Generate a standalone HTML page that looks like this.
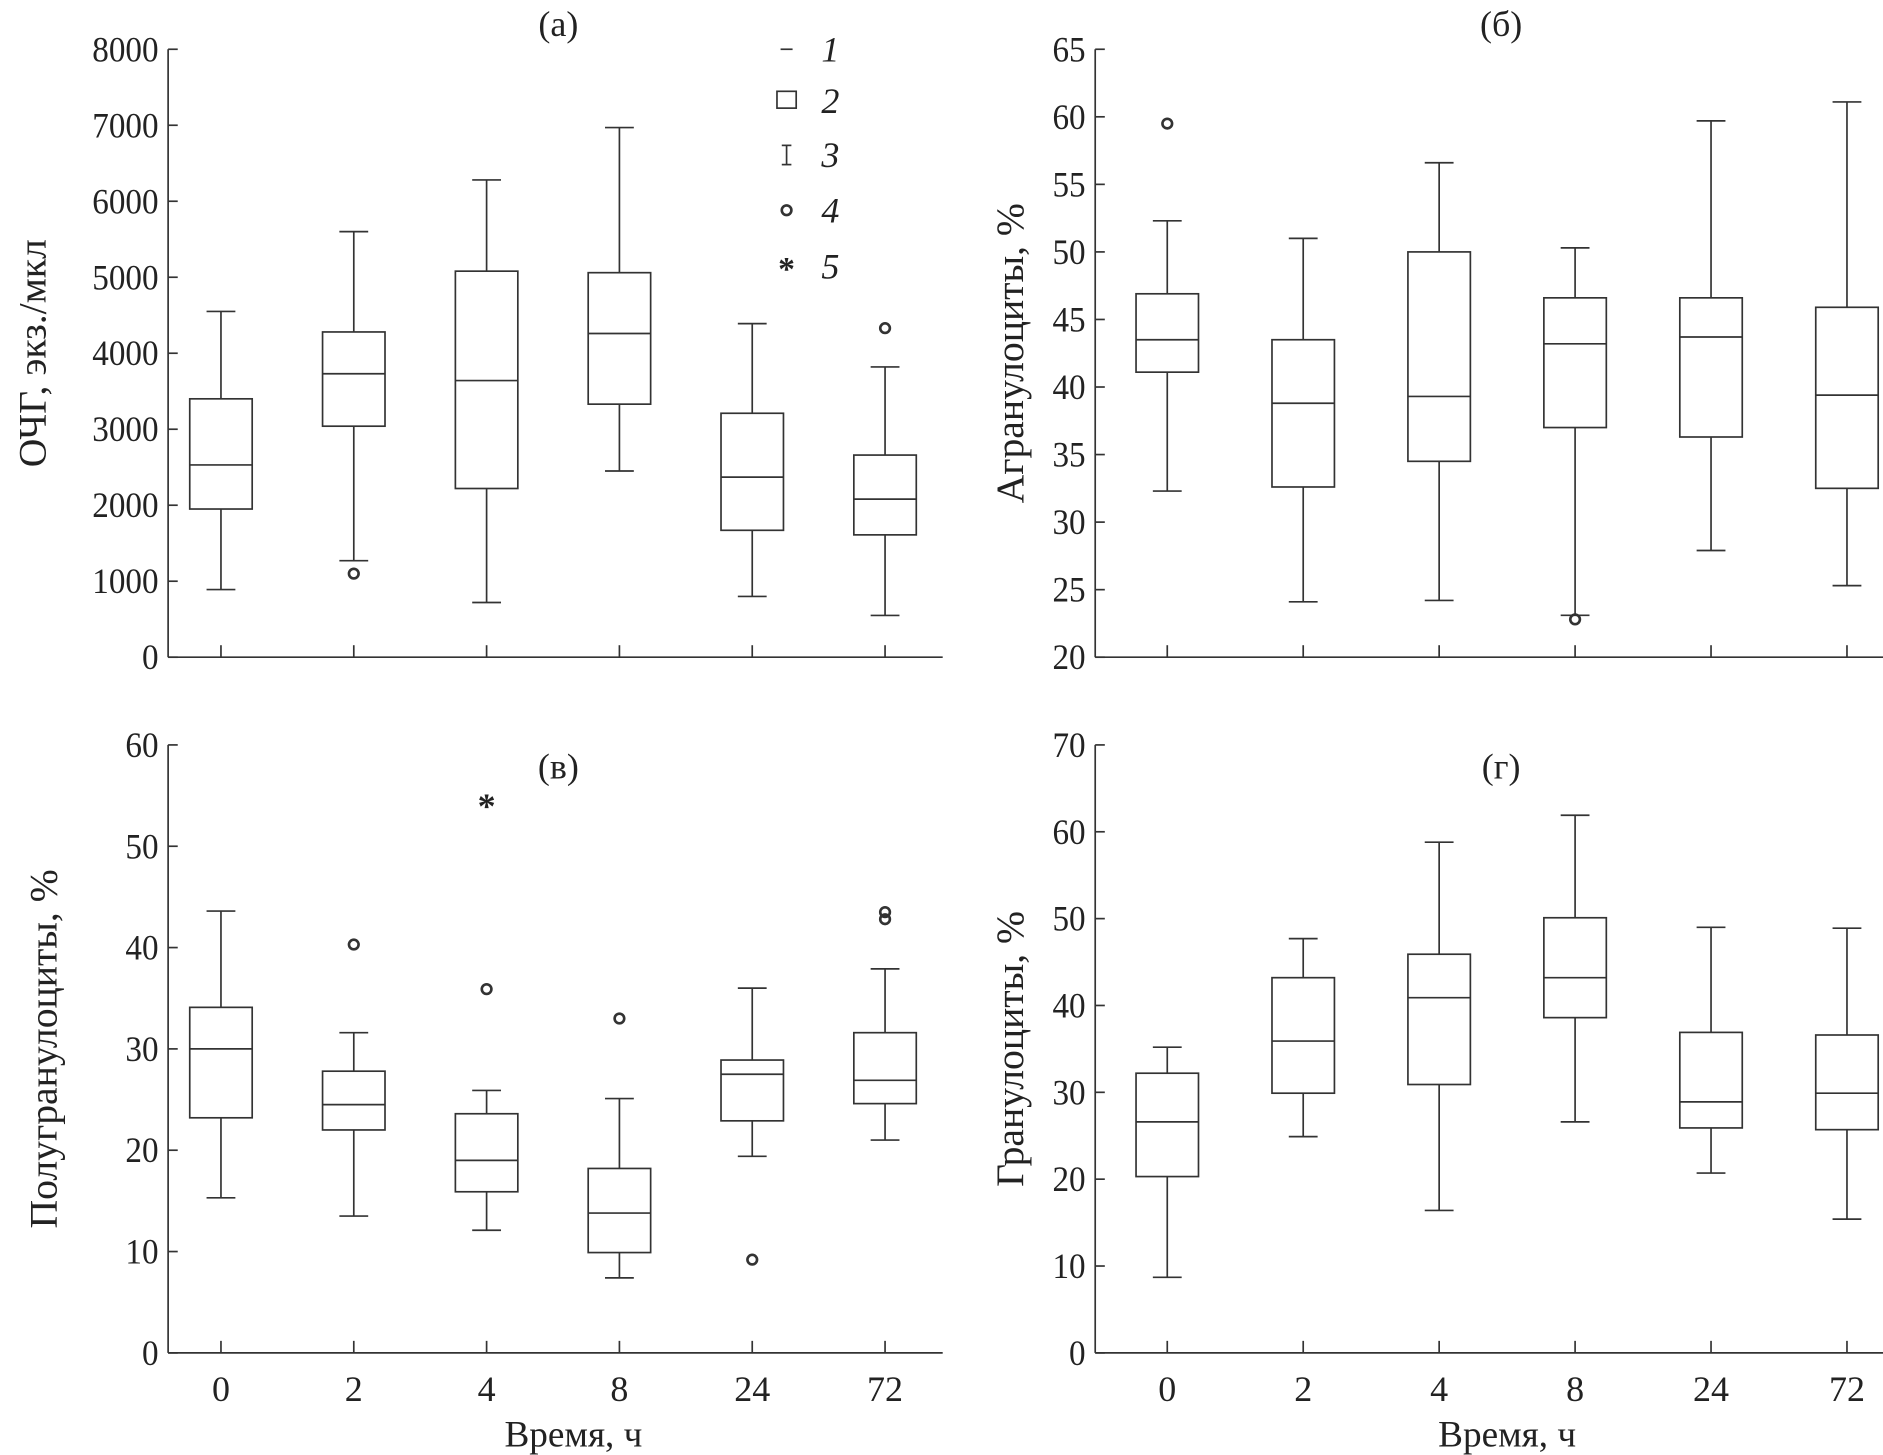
<!DOCTYPE html>
<html><head><meta charset="utf-8">
<style>
html,body{margin:0;padding:0;background:#fff;}
svg{display:block;}
text{font-family:"Liberation Serif","DejaVu Serif",serif;fill:#222;}
</style></head>
<body>
<svg id="fig" width="1883" height="1455" viewBox="0 0 1568 1211" preserveAspectRatio="none" xmlns="http://www.w3.org/2000/svg"></svg>
<script>
const categories = ["0","2","4","8","24","72"];
// panel a
const aLow=[890,1270,720,2450,800,550], aQ1=[1950,3040,2220,3330,1670,1610], aMed=[2530,3730,3640,4260,2370,2080], aQ3=[3400,4280,5080,5060,3210,2660], aHigh=[4550,5600,6280,6970,4390,3820];
const aOut=[[1,1100],[5,4330]], aStar=[];
const aTicks=[0,1000,2000,3000,4000,5000,6000,7000,8000];
// panel b
const bLow=[32.3,24.1,24.2,23.1,27.9,25.3], bQ1=[41.1,32.6,34.5,37.0,36.3,32.5], bMed=[43.5,38.8,39.3,43.2,43.7,39.4], bQ3=[46.9,43.5,50.0,46.6,46.6,45.9], bHigh=[52.3,51.0,56.6,50.3,59.7,61.1];
const bOut=[[0,59.5],[3,22.8]], bStar=[];
const bTicks=[20,25,30,35,40,45,50,55,60,65];
// panel c
const cLow=[15.3,13.5,12.1,7.4,19.4,21.0], cQ1=[23.2,22.0,15.9,9.9,22.9,24.6], cMed=[30.0,24.5,19.0,13.8,27.5,26.9], cQ3=[34.1,27.8,23.6,18.2,28.9,31.6], cHigh=[43.6,31.6,25.9,25.1,36.0,37.9];
const cOut=[[1,40.3],[2,35.9],[3,33.0],[4,9.2],[5,43.5],[5,42.8]], cStar=[[2,54.2]];
const cTicks=[0,10,20,30,40,50,60];
// panel d
const dLow=[8.7,24.9,16.4,26.6,20.7,15.4], dQ1=[20.3,29.9,30.9,38.6,25.9,25.7], dMed=[26.6,35.9,40.9,43.2,28.9,29.9], dQ3=[32.2,43.2,45.9,50.1,36.9,36.6], dHigh=[35.2,47.7,58.8,61.9,49.0,48.9];
const dOut=[], dStar=[];
const dTicks=[0,10,20,30,40,50,60,70];

const svg=document.getElementById('fig');
const NS='http://www.w3.org/2000/svg';
function el(tag,attrs,parent){const e=document.createElementNS(NS,tag);for(const k in attrs)e.setAttribute(k,attrs[k]);(parent||svg).appendChild(e);return e;}
const S={stroke:'#333','stroke-width':1.4,fill:'none'};
const FS=30;

function panel(cfg){
  const g=el('g',{});
  
  
  const {ax,axEnd,y0,y1,vmin,vmax,t0,dx}=cfg;
  const Y=v=>y0-(v-vmin)/(vmax-vmin)*(y0-y1);
  const X=i=>t0+i*dx;
  const yAxis=el('line',Object.assign({x1:ax,y1:y1,x2:ax,y2:y0},S),g);
  
  
  const xAxis=el('line',Object.assign({x1:ax,y1:y0,x2:axEnd,y2:y0},S),g);
  
  
  cfg.ticks.forEach(t=>{
    el('line',Object.assign({x1:ax,y1:Y(t),x2:ax+8,y2:Y(t)},S),g);
    const tx=el('text',{x:ax-8,y:Y(t)+10,'text-anchor':'end','font-size':FS,transform:`translate(${ax-8},0) scale(0.92,1) translate(${-(ax-8)},0)`},g);
    tx.textContent=t;
    
    
  });
  categories.forEach((c,i)=>{
    el('line',Object.assign({x1:X(i),y1:y0,x2:X(i),y2:y0-10},S),g);
    if(cfg.xlabels){
      const tx=el('text',{x:X(i),y:y0+40,'text-anchor':'middle','font-size':FS},g);
      tx.textContent=c;
      
      
    }
  });
  const bw=26, cw=12;
  categories.forEach((c,i)=>{
    const x=X(i);
    const bg=el('g',{},g);
    
    
    el('line',Object.assign({x1:x,y1:Y(cfg.hi[i]),x2:x,y2:Y(cfg.q3[i])},S),bg);
    el('line',Object.assign({x1:x,y1:Y(cfg.lo[i]),x2:x,y2:Y(cfg.q1[i])},S),bg);
    el('line',Object.assign({x1:x-cw,y1:Y(cfg.hi[i]),x2:x+cw,y2:Y(cfg.hi[i])},S),bg);
    el('line',Object.assign({x1:x-cw,y1:Y(cfg.lo[i]),x2:x+cw,y2:Y(cfg.lo[i])},S),bg);
    el('rect',Object.assign({x:x-bw,y:Y(cfg.q3[i]),width:2*bw,height:Y(cfg.q1[i])-Y(cfg.q3[i])},S),bg);
    el('line',Object.assign({x1:x-bw,y1:Y(cfg.med[i]),x2:x+bw,y2:Y(cfg.med[i])},S),bg);
  });
  cfg.out.forEach(o=>{
    const c=el('circle',{cx:X(o[0]),cy:Y(o[1]),r:4,fill:'none',stroke:'#333','stroke-width':2.2},g);
    
    
  });
  cfg.star.forEach(o=>{
    const t=el('text',{x:X(o[0]),y:Y(o[1])+12,'text-anchor':'middle','font-size':30,'font-weight':'bold'},g);
    t.textContent='*';
    
    
  });
  const tt=el('text',{x:cfg.titleX,y:cfg.titleY,'text-anchor':'middle','font-size':30},g);
  tt.textContent=cfg.title;
  
  
  const yl=el('text',{x:0,y:0,'text-anchor':'middle','font-size':33,transform:`translate(${cfg.ylx},${(y0+y1)/2}) rotate(-90)`},g);
  yl.textContent=cfg.ylabel;
  
  
  if(cfg.xlabels){
    const xl=el('text',{x:(ax+axEnd)/2+15,y:y0+78,'text-anchor':'middle','font-size':31},g);
    xl.textContent='Время, ч';
    
    
  }
}
panel({name:'panel-a',ax:140,axEnd:785,y0:547,y1:41,vmin:0,vmax:8000,t0:184,dx:110.6,ticks:aTicks,lo:aLow,q1:aQ1,med:aMed,q3:aQ3,hi:aHigh,out:aOut,star:aStar,title:'(а)',titleX:465,titleY:30,ylabel:'ОЧГ, экз./мкл',ylx:38});
panel({name:'panel-b',ax:912,axEnd:1568,y0:547,y1:41,vmin:20,vmax:65,t0:972,dx:113.2,ticks:bTicks,lo:bLow,q1:bQ1,med:bMed,q3:bQ3,hi:bHigh,out:bOut,star:bStar,title:'(б)',titleX:1250,titleY:30,ylabel:'Агранулоциты, %',ylx:852});
panel({name:'panel-c',ax:140,axEnd:785,y0:1126,y1:620,vmin:0,vmax:60,t0:184,dx:110.6,ticks:cTicks,lo:cLow,q1:cQ1,med:cMed,q3:cQ3,hi:cHigh,out:cOut,star:cStar,title:'(в)',titleX:465,titleY:648,ylabel:'Полугранулоциты, %',ylx:47,xlabels:true});
panel({name:'panel-d',ax:912,axEnd:1568,y0:1126,y1:620,vmin:0,vmax:70,t0:972,dx:113.2,ticks:dTicks,lo:dLow,q1:dQ1,med:dMed,q3:dQ3,hi:dHigh,out:dOut,star:dStar,title:'(г)',titleX:1250,titleY:648,ylabel:'Гранулоциты, %',ylx:852,xlabels:true});

// legend
const lg=el('g',{});


const ly=[41,84,129,175,222];
el('line',Object.assign({x1:650,y1:ly[0],x2:660,y2:ly[0]},S),lg);
el('rect',Object.assign({x:647,y:ly[1]-8,width:16,height:14},S),lg);
el('line',Object.assign({x1:655,y1:ly[2]-8,x2:655,y2:ly[2]+8},S),lg);
el('line',Object.assign({x1:651,y1:ly[2]-8,x2:659,y2:ly[2]-8},S),lg);
el('line',Object.assign({x1:651,y1:ly[2]+8,x2:659,y2:ly[2]+8},S),lg);
el('circle',{cx:655,cy:ly[3],r:4,fill:'none',stroke:'#333','stroke-width':2.2},lg);
const st=el('text',{x:655,y:ly[4]+11,'text-anchor':'middle','font-size':28,'font-weight':'bold'},lg);st.textContent='*';
ly.forEach((y,i)=>{
  const t=el('text',{x:684,y:y+10,'font-size':30,'font-style':'italic'},lg);
  t.textContent=String(i+1);
  
  
});
</script>
</body></html>
